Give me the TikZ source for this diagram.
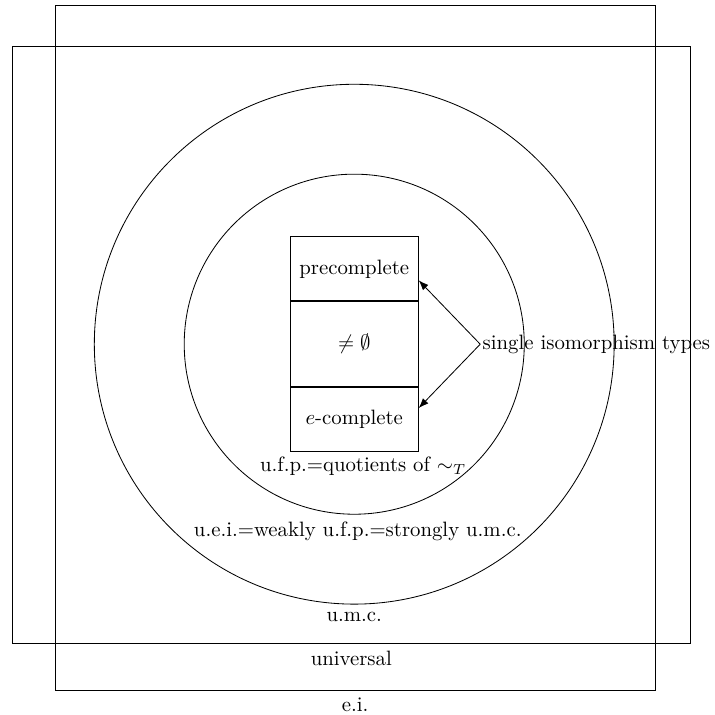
\documentclass[tikz,border=0pt]{standalone}
\usepackage{amsmath,amssymb}
\usetikzlibrary{arrows.meta,positioning}

\begin{document}
\begin{tikzpicture}[
  frame/.style={rectangle, draw, inner sep=0pt},
  ring/.style={circle, draw, inner sep=0pt},
  box/.style={rectangle, draw, minimum width=21.65mm, inner sep=0pt},
  >=Latex
]
  \useasboundingbox (-5.99,-6.27) rectangle (6.09,5.82);
  % outer classes
  \node[frame, minimum width=101.5mm, minimum height=115.8mm] (ei) at (0.015,-0.06) {};
  \node[frame, minimum width=114.6mm, minimum height=101mm] (univ) at (-0.05,-0.01) {};
  \node[ring, minimum size=87.9mm] (umc) at (0,0) {};
  \node[ring, minimum size=57.5mm] (ufp) at (0,0) {};
  % the stack in the middle
  \node[box, minimum height=14.4mm] (ne) at (0,0) {$\neq\emptyset$};
  \node[box, minimum height=10.8mm, above=0pt of ne] (pre) {precomplete};
  \node[box, minimum height=10.8mm, below=0pt of ne] (ecomp) {$e$-complete};
  \node[anchor=west, inner sep=1pt] (iso) at (2.13,0) {single isomorphism types};
  \draw[->] (iso.west) -- (pre.south east |- 0,1.08);
  \draw[->] (iso.west) -- (ecomp.north east |- 0,-1.08);
  % labels
  \node[below=-1pt of ecomp, xshift=1.5mm] (ufplab) {u.f.p.=quotients of $\sim_T$};
  \node[below=0pt of ufp, xshift=0.6mm] (ueilab) {u.e.i.=weakly u.f.p.=strongly u.m.c.};
  \node[below=0pt of umc] (umclab) {u.m.c.};
  \node[below=0pt of univ] (univlab) {universal};
  \node[below=0pt of ei] (eilab) {e.i.};
\end{tikzpicture}
\end{document}
